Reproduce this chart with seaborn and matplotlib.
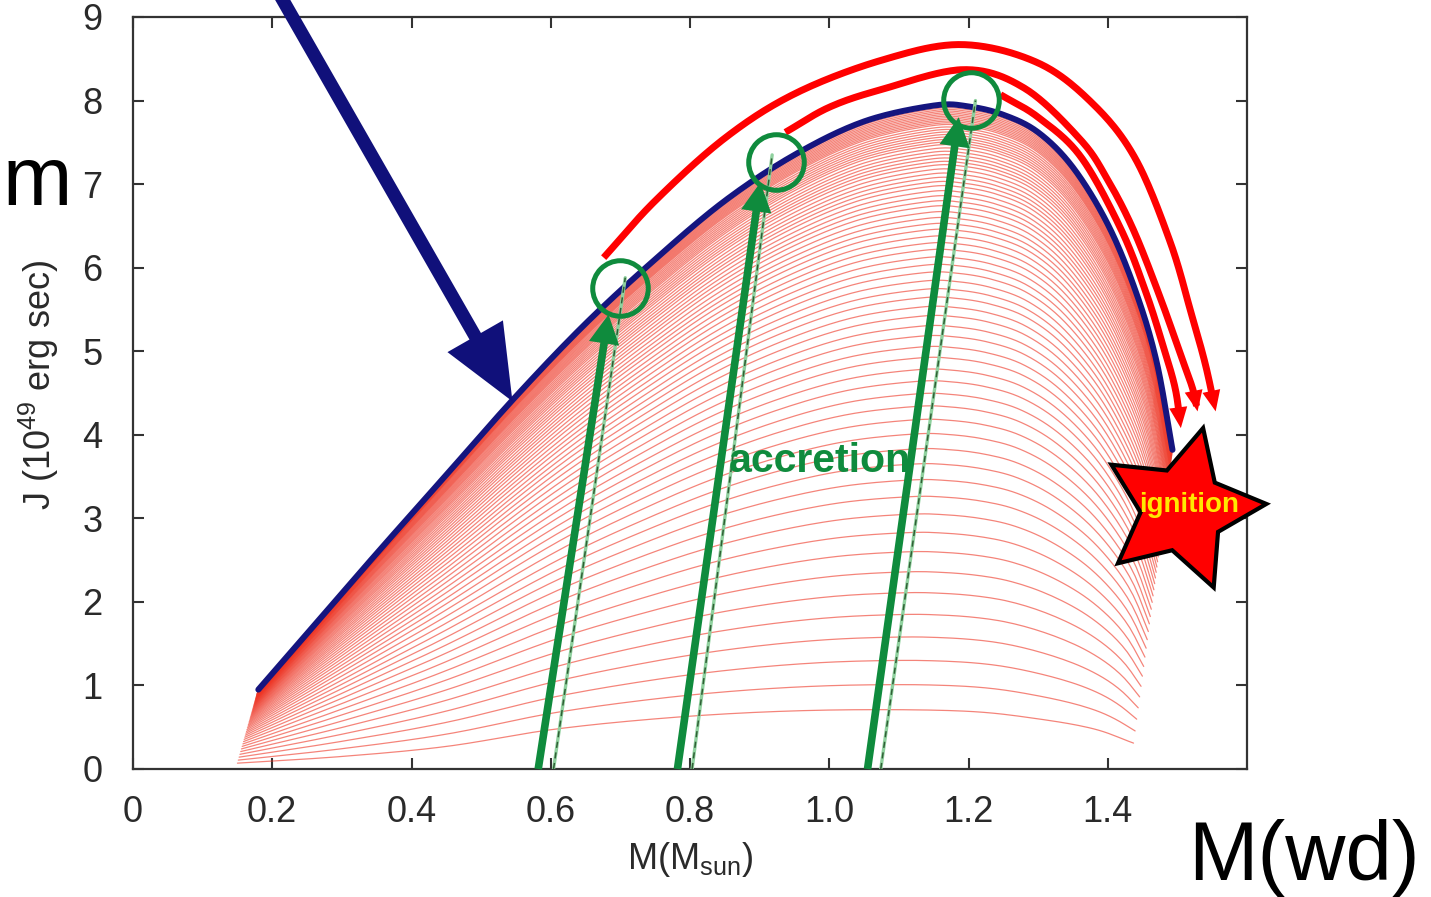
import numpy as np
import pandas as pd
import matplotlib
matplotlib.use("Agg")
import matplotlib.pyplot as plt
import seaborn as sns
from matplotlib.markers import MarkerStyle

# ---------------- data ----------------
# upper envelope of the fan (blue line)
env_M = [0.18, 0.25, 0.35, 0.45, 0.55, 0.65, 0.75, 0.85, 0.95, 1.05, 1.15, 1.20,
         1.25, 1.30, 1.35, 1.40, 1.44, 1.47, 1.493]
env_J = [0.95, 1.62, 2.58, 3.52, 4.46, 5.33, 6.10, 6.80, 7.35, 7.75, 7.94, 7.93,
         7.83, 7.62, 7.20, 6.52, 5.72, 4.88, 3.82]
# lowest curve of the fan
low_M = [0.15, 0.30, 0.45, 0.60, 0.75, 0.90, 1.05, 1.20, 1.30, 1.38, 1.437]
low_J = [0.07, 0.15, 0.27, 0.47, 0.60, 0.68, 0.71, 0.69, 0.60, 0.48, 0.31]
# peak J of every red fan curve (bottom to top)
fan_peaks = [0.71, 1.01, 1.30, 1.58, 1.85, 2.11, 2.36, 2.60, 2.83, 3.05, 3.26, 3.46,
             3.65, 3.83, 4.01, 4.18, 4.34, 4.49, 4.64, 4.78, 4.92, 5.05, 5.18, 5.30,
             5.42, 5.53, 5.64, 5.74, 5.84, 5.94, 6.03, 6.12, 6.21, 6.29, 6.37, 6.45,
             6.52, 6.59, 6.66, 6.73, 6.79, 6.85, 6.91, 6.97, 7.02, 7.07, 7.12, 7.17,
             7.22, 7.26, 7.30, 7.34, 7.38, 7.42, 7.46, 7.49, 7.52, 7.55, 7.58, 7.61,
             7.64, 7.67, 7.70, 7.72, 7.74, 7.76, 7.78, 7.80, 7.82, 7.84, 7.86, 7.88,
             7.90, 7.92, 7.94]
# red arcs (outer, middle, inner)
arc1_M = [0.676, 0.75, 0.85, 0.95, 1.074, 1.19, 1.30, 1.38, 1.44, 1.49, 1.52, 1.54, 1.555]
arc1_J = [6.12, 6.80, 7.55, 8.08, 8.48, 8.67, 8.45, 7.95, 7.30, 6.30, 5.45, 4.85, 4.28]
arc2_M = [0.937, 1.00, 1.074, 1.193, 1.28, 1.361, 1.40, 1.437, 1.475, 1.505, 1.522, 1.529]
arc2_J = [7.62, 7.92, 8.13, 8.37, 8.15, 7.53, 7.05, 6.45, 5.65, 4.95, 4.55, 4.28]
arc3_M = [1.246, 1.30, 1.361, 1.419, 1.455, 1.48, 1.497, 1.505]
arc3_J = [8.07, 7.80, 7.33, 6.46, 5.70, 5.05, 4.55, 4.08]
# green accretion arrows, dashed guides and circles
acc_start_M = [0.582, 0.782, 1.055]
acc_tip_M = [0.683, 0.901, 1.186]
acc_tip_J = [5.44, 7.02, 7.80]
dash_start_M = [0.604, 0.803, 1.074]
dash_end_M = [0.707, 0.918, 1.210]
dash_end_J = [5.88, 7.35, 8.00]
circle_M = [0.700, 0.923, 1.203]
circle_J = [5.76, 7.27, 8.01]
# navy pointer arrow
pointer_tail = (0.205, 9.35)
pointer_tip = (0.545, 4.40)
# ignition star
star_M, star_J = 1.506, 3.11

x_ticks = [0, 0.2, 0.4, 0.6, 0.8, 1.0, 1.2, 1.4]
x_labels = ["0", "0.2", "0.4", "0.6", "0.8", "1.0", "1.2", "1.4"]
y_ticks = list(range(10))
y_labels = [str(v) for v in y_ticks]

# ---------------- helpers ----------------
def smooth(xs, ys, n=24):
    P = np.column_stack([xs, ys]).astype(float)
    P = np.vstack([2 * P[0] - P[1], P, 2 * P[-1] - P[-2]])
    t = np.linspace(0, 1, n, endpoint=False)[:, None]
    out = []
    for i in range(1, len(P) - 2):
        p0, p1, p2, p3 = P[i - 1], P[i], P[i + 1], P[i + 2]
        seg = 0.5 * (2 * p1 + (-p0 + p2) * t + (2 * p0 - 5 * p1 + 4 * p2 - p3) * t ** 2
                     + (-p0 + 3 * p1 - 3 * p2 + p3) * t ** 3)
        out.append(seg)
    out.append(P[-2][None, :])
    S = np.vstack(out)
    return S[:, 0], S[:, 1]

# ---------------- style ----------------
sns.set_theme(style="ticks")
plt.rcParams["font.family"] = ["Liberation Sans", "DejaVu Sans"]
plt.rcParams["mathtext.fontset"] = "custom"
plt.rcParams["mathtext.rm"] = "Liberation Sans"
plt.rcParams["mathtext.default"] = "regular"

fig = plt.figure(figsize=(14.31, 8.97), dpi=100)
fig.patch.set_facecolor("white")
ax = fig.add_axes([133 / 1431, 1 - 769 / 897, 1114 / 1431, 752 / 897])
ax.set_facecolor("white")

# ---------------- fan of red curves ----------------
tx, ty = smooth(env_M, env_J)
bx, by = smooth(low_M, low_J)
u_n = 180
xb = np.linspace(low_M[0], low_M[-1], u_n)
yb = np.interp(xb, bx, by)
xt = np.linspace(env_M[0], env_M[-1], u_n)
yt = np.interp(xt, tx, ty)
pk_lo, pk_hi = max(low_J), max(env_J)
rows = []
for k, p in enumerate(fan_peaks):
    w = (p - pk_lo) / (pk_hi - pk_lo)
    rows.append(pd.DataFrame({"M": xb + w * (xt - xb), "J": yb + w * (yt - yb), "curve": k}))
fan_df = pd.concat(rows, ignore_index=True)
sns.lineplot(data=fan_df, x="M", y="J", units="curve", estimator=None, sort=False,
             color="#ee3322", lw=0.9, alpha=0.6, ax=ax, legend=False, zorder=1)

# ---------------- blue envelope ----------------
env_df = pd.DataFrame({"M": tx, "J": ty})
sns.lineplot(data=env_df, x="M", y="J", sort=False, color="#15157f", lw=4.3,
             ax=ax, zorder=3, solid_capstyle="round")

# ---------------- green dashed guides ----------------
green = "#0f8b3d"
for s, e, j in zip(dash_start_M, dash_end_M, dash_end_J):
    ax.plot([s, e], [0, j], color="#8fd19e", lw=2.4, zorder=4)
    ax.plot([s, e], [0, j], color="#2f5f35", lw=1.1, ls=(0, (4, 3)), zorder=4)

# ---------------- green accretion arrows ----------------
for s, m, j in zip(acc_start_M, acc_tip_M, acc_tip_J):
    ax.annotate("", xy=(m, j), xytext=(s, 0.0), annotation_clip=False,
                arrowprops=dict(width=5.5, headwidth=22, headlength=21,
                                facecolor=green, edgecolor=green, lw=0), zorder=5)

# ---------------- circles ----------------
ax.plot(circle_M, circle_J, ls="none", marker="o", ms=40, mfc="none",
        mec=green, mew=3.6, zorder=6)

# ---------------- red arcs with heads ----------------
for am, aj in [(arc1_M, arc1_J), (arc2_M, arc2_J), (arc3_M, arc3_J)]:
    sx, sy = smooth(am, aj)
    ax.plot(sx[:-6], sy[:-6], color="#ff0000", lw=5, zorder=5,
            solid_capstyle="butt", clip_on=False)
    ax.annotate("", xy=(sx[-1], sy[-1]), xytext=(sx[-8], sy[-8]), annotation_clip=False,
                arrowprops=dict(width=3.2, headwidth=13, headlength=15,
                                facecolor="#ff0000", edgecolor="#ff0000", lw=0), zorder=5)

# ---------------- navy pointer arrow ----------------
navy = "#10107a"
ax.annotate("", xy=pointer_tip, xytext=pointer_tail, annotation_clip=False,
            arrowprops=dict(width=9.5, headwidth=46, headlength=54,
                            facecolor=navy, edgecolor=navy, lw=0), zorder=6)

# ---------------- ignition star ----------------
ax.plot([star_M], [star_J], ls="none",
        marker=MarkerStyle((5, 1, -14.2), joinstyle="miter"), ms=121,
        mfc="#ff0000", mec="black", mew=3, zorder=7, clip_on=False)
ax.text(1.517, 3.08, "ignition", color="#ffe800", fontsize=20, fontweight="bold",
        ha="center", va="baseline", zorder=8)
ax.text(0.855, 3.557, "accretion", color=green, fontsize=29.5, fontweight="bold",
        ha="left", va="baseline", zorder=8)

# ---------------- axes ----------------
ax.set_xlim(0, 1.6)
ax.set_ylim(0, 9)
ax.set_xticks(x_ticks)
ax.set_xticklabels(x_labels)
ax.set_yticks(y_ticks)
ax.set_yticklabels(y_labels)
ax.tick_params(axis="both", direction="in", length=8, width=1.5, colors="#333333",
               labelsize=26, top=True, right=True, labelcolor="#2a2a2a")
ax.tick_params(axis="x", pad=19)
ax.tick_params(axis="y", pad=22)
for sp in ax.spines.values():
    sp.set_visible(True)
    sp.set_linewidth(1.6)
    sp.set_color("#333333")

ax.set_xlabel(r"M(M$_{\rm sun}$)", fontsize=26, color="#2a2a2a")
ax.set_ylabel(r"J (10$^{49}$ erg sec)", fontsize=26, color="#2a2a2a")
ax.xaxis.set_label_coords(0.5, -0.094)
ax.yaxis.set_label_coords(-0.0646, 0.511)

# ---------------- slide texts ----------------
fig.text(1188 / 1431, 1 - 880 / 897, "M(wd)", fontsize=60, color="black",
         ha="left", va="baseline")
fig.text(2 / 1431, 1 - 205 / 897, "m", fontsize=60, color="black",
         ha="left", va="baseline")

fig.savefig("out.png", dpi=100, facecolor="white")
